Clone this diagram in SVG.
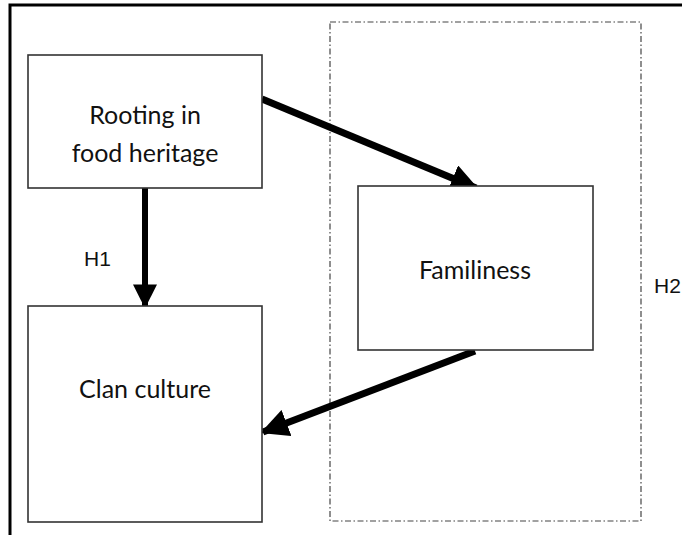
<svg xmlns="http://www.w3.org/2000/svg" width="682" height="535" viewBox="0 0 682 535">
  <style>
    .box { fill: #fff; stroke: #333; stroke-width: 1.6; }
    .lbl { font-family: Lato, "Noto Sans", "Liberation Sans", sans-serif; font-size: 25px; fill: #111; text-anchor: middle; }
    .hyp { font-family: "Liberation Sans", Arial, sans-serif; font-size: 21px; fill: #111; }
    .edge { stroke: #000; stroke-width: 7; fill: none; }
  </style>
  <defs>
    <marker id="head" viewBox="0 0 10 10" refX="9" refY="5" markerWidth="4" markerHeight="4" markerUnits="strokeWidth" orient="auto">
      <path d="M0,0 L10,5 L0,10 Z" fill="#000"/>
    </marker>
  </defs>
  <rect width="682" height="535" fill="#fff"/>
  <!-- outer frame, right and bottom edges lie outside the canvas -->
  <rect x="10" y="5" width="720" height="600" fill="none" stroke="#000" stroke-width="3"/>
  <!-- mediation region -->
  <rect x="330" y="22" width="311" height="499" fill="none" stroke="#444" stroke-width="1.2" stroke-dasharray="6 2.5 1.5 2.5"/>
  <g id="connectors">
    <line class="edge" x1="262" y1="99" x2="476" y2="188" marker-end="url(#head)"/>
    <line class="edge" x1="145" y1="188" x2="145" y2="306" marker-end="url(#head)" style="stroke-width:6"/>
    <line class="edge" x1="475" y1="351" x2="263" y2="432" marker-end="url(#head)"/>
  </g>
  <g id="rooting">
    <rect class="box" x="28" y="55" width="234" height="133"/>
    <text class="lbl" x="145" y="124">Rooting in</text>
    <text class="lbl" x="145" y="162">food heritage</text>
  </g>
  <g id="familiness">
    <rect class="box" x="358" y="186" width="235" height="164"/>
    <text class="lbl" x="475" y="279">Familiness</text>
  </g>
  <g id="clan">
    <rect class="box" x="28" y="306" width="234" height="216"/>
    <text class="lbl" x="145" y="398">Clan culture</text>
  </g>
  <g id="labels">
    <text class="hyp" x="84" y="266">H1</text>
    <text class="hyp" x="654" y="293">H2</text>
  </g>
</svg>
